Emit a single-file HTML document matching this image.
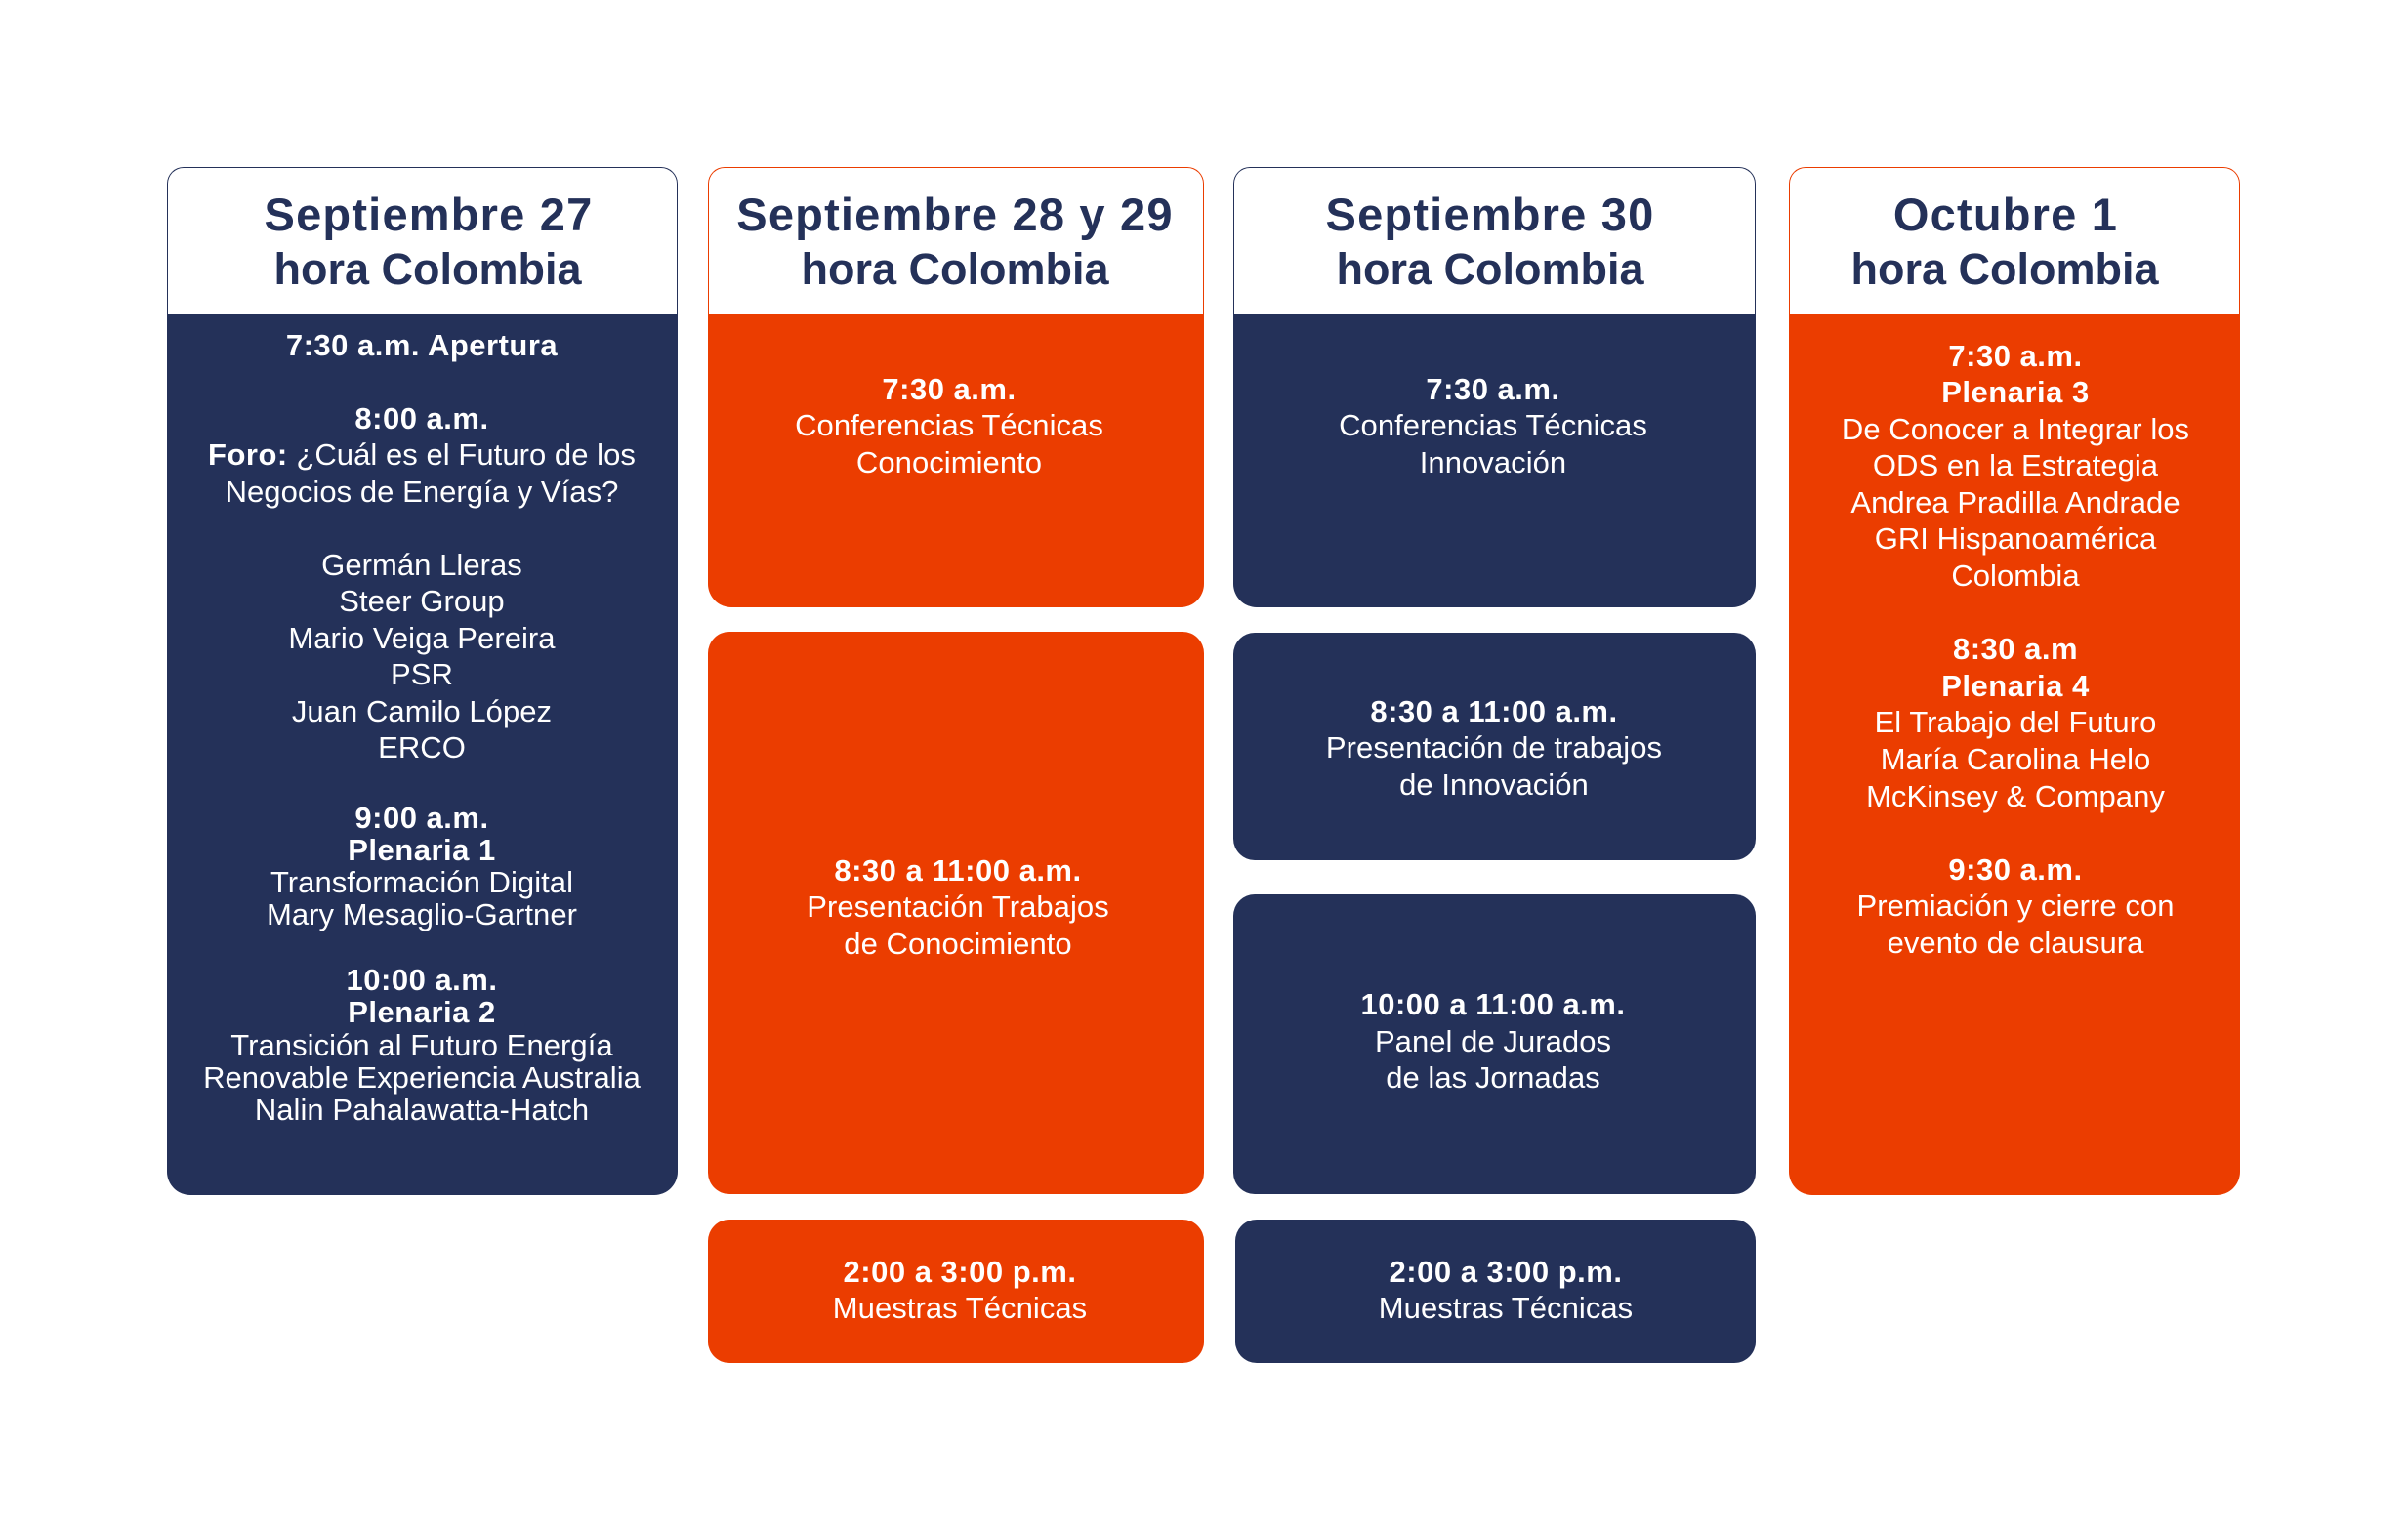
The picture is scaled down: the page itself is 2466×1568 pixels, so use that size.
<!DOCTYPE html>
<html>
<head>
<meta charset="utf-8">
<style>
  html, body { margin:0; padding:0; }
  body { width:2466px; height:1568px; position:relative; background:#ffffff; overflow:hidden;
         font-family:"Liberation Sans", Arial, sans-serif; }
  .hdr { position:absolute; box-sizing:border-box; background:#fff; border:1.8px solid; border-bottom:none;
         border-radius:17px 17px 0 0; }
  .bd { position:absolute; border-radius:0 0 24px 24px; }
  .bx { position:absolute; border-radius:22px; }
  .n { background:#243159; }
  .o { background:#EB3D00; }
  .bn { border-color:#243159; }
  .bo { border-color:#EB3D00; }
  .t { position:absolute; width:800px; margin-left:-400px; text-align:center; white-space:nowrap;
       color:#fff; font-size:31px; line-height:37.5px; letter-spacing:0.05px; }
  .t b { letter-spacing:0.5px; }
  .h1 { position:absolute; width:800px; margin-left:-400px; text-align:center; white-space:nowrap;
        color:#243159; font-weight:bold; font-size:47px; line-height:47px; letter-spacing:1.2px; }
  .h2 { position:absolute; width:800px; margin-left:-400px; text-align:center; white-space:nowrap;
        color:#243159; font-weight:bold; font-size:45px; line-height:45px; }
</style>
</head>
<body>

<!-- Column 1 -->
<div class="hdr bn" style="left:171px;top:171px;width:523px;height:152px;"></div>
<div class="bd n" style="left:171px;top:322px;width:523px;height:902px;"></div>

<!-- Column 2 -->
<div class="hdr bo" style="left:725px;top:171px;width:508px;height:152px;"></div>
<div class="bd o" style="left:725px;top:322px;width:508px;height:300px;"></div>
<div class="bx o" style="left:725px;top:647px;width:508px;height:576px;"></div>
<div class="bx o" style="left:725px;top:1249px;width:508px;height:147px;"></div>

<!-- Column 3 -->
<div class="hdr bn" style="left:1263px;top:171px;width:535px;height:152px;"></div>
<div class="bd n" style="left:1263px;top:322px;width:535px;height:300px;"></div>
<div class="bx n" style="left:1263px;top:648px;width:535px;height:233px;"></div>
<div class="bx n" style="left:1263px;top:916px;width:535px;height:307px;"></div>
<div class="bx n" style="left:1265px;top:1249px;width:533px;height:147px;"></div>

<!-- Column 4 -->
<div class="hdr bo" style="left:1832px;top:171px;width:462px;height:152px;"></div>
<div class="bd o" style="left:1832px;top:322px;width:462px;height:902px;"></div>

<!-- Headers -->
<div class="h1" style="left:439px;top:196px;">Septiembre 27</div>
<div class="h2" style="left:438px;top:253px;">hora Colombia</div>

<div class="h1" style="left:978px;top:196px;">Septiembre 28 y 29</div>
<div class="h2" style="left:978px;top:253px;">hora Colombia</div>

<div class="h1" style="left:1526px;top:196px;">Septiembre 30</div>
<div class="h2" style="left:1526px;top:253px;">hora Colombia</div>

<div class="h1" style="left:2054px;top:196px;">Octubre 1</div>
<div class="h2" style="left:2053px;top:253px;">hora Colombia</div>

<!-- Column 1 text -->
<div class="t" style="left:432px;top:334.5px;">
<b>7:30 a.m. Apertura</b><br><br>
<b>8:00 a.m.</b><br>
<b>Foro:</b> ¿Cuál es el Futuro de los<br>
Negocios de Energía y Vías?<br><br>
Germán Lleras<br>
Steer Group<br>
Mario Veiga Pereira<br>
PSR<br>
Juan Camilo López<br>
ERCO
</div>
<div class="t" style="left:432px;top:820.6px;line-height:33.3px;">
<b>9:00 a.m.</b><br>
<b>Plenaria 1</b><br>
Transformación Digital<br>
Mary Mesaglio-Gartner<br><br>
<b>10:00 a.m.</b><br>
<b>Plenaria 2</b><br>
Transición al Futuro Energía<br>
Renovable Experiencia Australia<br>
Nalin Pahalawatta-Hatch
</div>

<!-- Column 2 text -->
<div class="t" style="left:972px;top:379.5px;">
<b>7:30 a.m.</b><br>
Conferencias Técnicas<br>
Conocimiento
</div>
<div class="t" style="left:981px;top:872.5px;">
<b>8:30 a 11:00 a.m.</b><br>
Presentación Trabajos<br>
de Conocimiento
</div>
<div class="t" style="left:983px;top:1283.5px;">
<b>2:00 a 3:00 p.m.</b><br>
Muestras Técnicas
</div>

<!-- Column 3 text -->
<div class="t" style="left:1529px;top:379.5px;">
<b>7:30 a.m.</b><br>
Conferencias Técnicas<br>
Innovación
</div>
<div class="t" style="left:1530px;top:709.5px;">
<b>8:30 a 11:00 a.m.</b><br>
Presentación de trabajos<br>
de Innovación
</div>
<div class="t" style="left:1529px;top:1010px;">
<b>10:00 a 11:00 a.m.</b><br>
Panel de Jurados<br>
de las Jornadas
</div>
<div class="t" style="left:1542px;top:1283.5px;">
<b>2:00 a 3:00 p.m.</b><br>
Muestras Técnicas
</div>

<!-- Column 4 text -->
<div class="t" style="left:2064px;top:345.5px;line-height:37.6px;">
<b>7:30 a.m.</b><br>
<b>Plenaria 3</b><br>
De Conocer a Integrar los<br>
ODS en la Estrategia<br>
Andrea Pradilla Andrade<br>
GRI Hispanoamérica<br>
Colombia<br><br>
<b>8:30 a.m</b><br>
<b>Plenaria 4</b><br>
El Trabajo del Futuro<br>
María Carolina Helo<br>
McKinsey &amp; Company<br><br>
<b>9:30 a.m.</b><br>
Premiación y cierre con<br>
evento de clausura
</div>

</body>
</html>
